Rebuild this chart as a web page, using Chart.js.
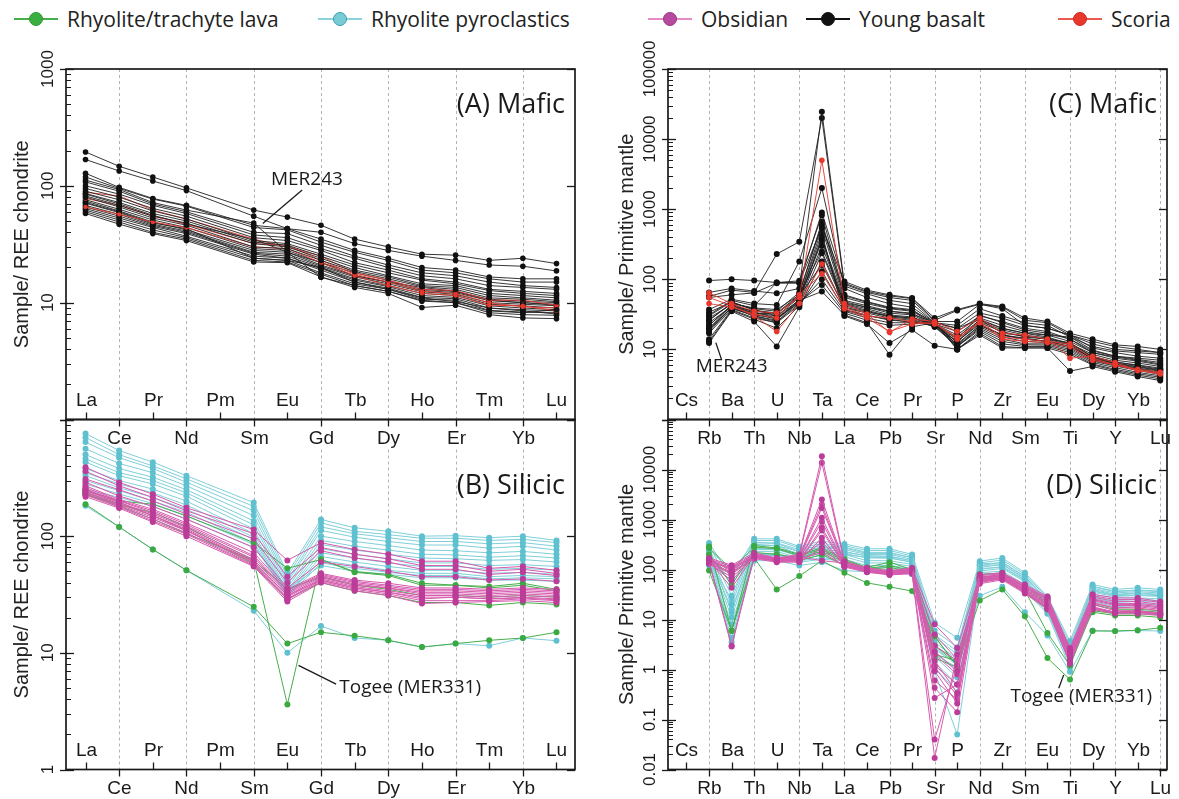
<!DOCTYPE html>
<html><head><meta charset="utf-8">
<script src="https://cdn.jsdelivr.net/npm/chart.js@4.4.1/dist/chart.umd.min.js"></script>
<style>
body{margin:0;background:#fff;width:1179px;height:799px;overflow:hidden;position:relative;}
.layer{position:absolute;left:0;top:0;width:1179px;height:799px;}
#legend{position:absolute;left:0;top:0;width:1179px;height:40px;}
.li{position:absolute;top:5px;height:28px;display:flex;align-items:center;font-family:"Open Sans",sans-serif;font-size:21px;color:#222;white-space:nowrap;}
.sw{position:relative;width:44px;height:28px;margin-right:9px;flex:none;}
.sw .ln{position:absolute;left:0;right:0;top:13px;height:2px;}
.sw .dt{position:absolute;left:15px;top:7px;width:14px;height:14px;border-radius:50%;box-sizing:border-box;}
</style></head>
<body>
<div id="legend"></div>
<canvas class="layer" id="cA" width="1179" height="799"></canvas>
<canvas class="layer" id="cB" width="1179" height="799"></canvas>
<canvas class="layer" id="cC" width="1179" height="799"></canvas>
<canvas class="layer" id="cD" width="1179" height="799"></canvas>
<script>
// ---------- categories & tick labels ----------
const reeLabels = ['La','Ce','Pr','Nd','Pm','Sm','Eu','Gd','Tb','Dy','Ho','Er','Tm','Yb','Lu'];
const pmLabels = ['Cs','Rb','Ba','Th','U','Nb','Ta','La','Ce','Pb','Pr','Sr','P','Nd','Zr','Sm','Eu','Ti','Dy','Y','Yb','Lu'];
const seriesNames = ['Rhyolite/trachyte lava','Rhyolite pyroclastics','Obsidian','Young basalt','Scoria'];
const yTicksA = [10,100,1000];
const yTicksB = [1,10,100];
const yTicksC = [10,100,1000,10000,100000];
const yTicksD = [0.01,0.1,1,10,100,1000,10000];

// ---------- (A) Mafic, REE/chondrite: La..Lu (Pm not analysed) ----------
const basaltREE = [
[195,147,119,96,null,62,54,46,35,30,26,25.5,23,24,21.6],
[168,134,110,91,null,55,43,40,32,28,25,23,21,20.5,18.7],
[128,97,78,68,null,46,43,35,28,24,20,19,16.6,16,16],
[119,95,77,67,null,44,42,33,27,23,19,18,16,15,15],
[112,93,72,62,null,48,27,16.5,14,12.5,10.5,10,8.5,8.2,8.7],
[108,90,70,60,null,40,39,31,25,21,18,17,15,14,13.5],
[100,85,68,58,null,38,36,29,24,20,17,16,14,13.5,13],
[95,80,64,55,null,36,34,28,22,19,16,15,13,12.5,12],
[90,76,61,52,null,34,32,26,21,18,15.6,14.5,12.7,12,11.5],
[86,72,58,50,null,33,31,25,20,17,14.5,14,12,11.5,11],
[82,68,55,48,null,32,30,24,19,16.6,14,13.5,11.5,11,10.5],
[80,66,53,46,null,30,29,23,18.5,16,13.7,13,11,10.7,10.2],
[76,63,51,44,null,29,28,22,18,15.5,13,12.5,10.7,10.3,10],
[74,61,49,42,null,28,27,21,17,15,12.7,12.2,10.4,10,9.7],
[71,59,47,41,null,27,26,20.5,16.6,14.5,12.4,11.8,10,9.7,9.4],
[68,57,46,40,null,26.5,25,20,16,14,12,11.5,9.7,9.4,9],
[66,55,45,39,null,26,24,19.6,15.6,13.7,11.5,11.1,9.4,9,8.7],
[64,53,44,37,null,25,24,19,15,13.3,11.1,10.8,9,8.7,8.5],
[62,51,42,36,null,24,23,18,14.5,13,10.7,10.5,8.6,8.3,8.2],
[60,49,40,35,null,23,22.3,17.5,14,12.5,10.3,10,8.2,7.9,7.8],
[58,47,39,34,null,22.3,22,16.6,13.5,12,9.1,9.5,7.9,7.4,7.3],
[72,60,48,43,null,24,23,20,15,13,11,10.2,9,8.5,8],
[85,70,56,47,null,35,27,22,17,15,13.5,12.5,10.5,10,9.5]
];
const scoriaREE = [
[88,82,62,52,null,35,30,25,18,15.6,13,12.7,10.5,10.5,9.5],
[66,57,49,44,null,30,29,22,17,14,12,11.5,9.5,9.4,8.5],
[78,68,55,47,null,32,31,23,17.5,15,12.5,12,10,9.2,9]
];

// ---------- (B) Silicic, REE/chondrite ----------
const lavaREE = [
[245,200,188,149,null,88,53,63,49.6,47,39.5,38,37,39.5,35],
[230,185,160,120,null,62,35,45,38,35,31,31,30,31,30],
[235,190,150,112,null,58,29,40,34,31,27,27,25.5,27,26],
[188,120,77,51,null,24.8,12,15,14,12.8,11.2,12,12.8,13.4,15],
[228,180,140,105,null,62,3.6,63,49,46,38,38,36,38,34]
];
const pyroREE = [
[757,542,431,330,null,194,48,139,118,110,100,101,97,100,92],
[700,500,400,310,null,180,45,130,110,103,96,96,92,94,88],
[640,470,380,290,null,165,42,120,105,97,90,90,86,88,82],
[561,420,350,270,null,150,40,112,98,90,84,84,79,82,76],
[500,380,320,250,null,135,38,100,90,83,76,75,72,74,70],
[460,350,300,235,null,125,36,92,82,76,70,69,66,68,65],
[431,330,280,220,null,115,34,85,76,70,65,64,62,63,60],
[380,300,253,200,null,105,33,78,70,64,59,59,56,57,55],
[350,280,235,185,null,98,32,72,65,59,55,55,52,53,51],
[330,260,215,170,null,94,31,67,60,55,51,51,48,49,47],
[300,245,200,160,null,88,31,62,56,51,48,48,45,46,45],
[280,230,190,150,null,85,30,59,53,49,46,46,43,44,43],
[253,215,180,140,null,80,35,56,50,47,44,44,42,42,41],
[182,120,77,51,null,23,10,17,13.4,12.8,11.2,12,11.5,13.4,12.7]
];
const obsREE = [
[390,289,229,175,null,114,62,88,77,70,61,61,53,55,51],
[360,270,215,165,null,105,45,80,70,64,56,56,50,52,48],
[309,250,200,155,null,95,40,75,65,60,52,52,47,49,46],
[290,221,180,140,null,80,36,60,55,50,45,45,42,43,41],
[270,207,170,130,null,72,35,48,42,39.5,36,36,35,36,35],
[262,202,165,126,null,68,34,47,41,38,35,35,34,35,34],
[253,200,160,122,null,66,33,46,40,37,34,34,33,34,33],
[245,194,155,118,null,63,32,45,39,36,33,33,32,33,32],
[240,190,150,115,null,61,31,44,38,35.8,32,32,31,32,31],
[237,185,145,111,null,59,30,43,37,34,31,31,30,31,30],
[230,182,140,107,null,57,29,42,36,33,29,30,29,30,29],
[225,178,135,104,null,56,28.5,41,35,32,28,28,28,29,28],
[218,174,132,100,null,55,27.5,40,34,31,26.5,27,27.5,28,27],
[250,196,150,112,null,60,31,42,36,33,30,30,29,29.5,28.5]
];

// ---------- (C) Mafic, primitive mantle: Rb..Lu (no Cs) ----------
const basaltPM = [
[96,100,96,90,90,550,93,70,60,54,28,37,45,41,28,25,17,14,11.6,11,10],
[65,74,68,63,74,24600,85,65,55,50,25,25,44,40,26,24,16,12,10,9.5,9],
[57,70,65,229,343,20000,80,62,50,45,24,22,38,30,24,22,15,11,9.5,9,8.5],
[37,52,45,43,180,2000,74,55,45,40,24,20,33,28,22,20,16,10.5,9,8,7.5],
[31,50,42,90,95,820,60,48,40,37,23,18,30,25,20,18,14,9.5,8,7.2,6.5],
[26,45,39,37,60,660,55,45,38,35,23,16,28,22,18,16,13,9,7.5,6.8,6],
[22,42,35,33,55,530,50,42,35,33,22,15,26,20,17,15,12,8.5,7,6.4,5.7],
[19,40,33,30,50,380,48,40,33,31,22,14,25,19,16,14.5,12,8,6.6,6,5.4],
[17,38,31,28,46,300,45,38,31,29,22,13,24,18,15,14,11.5,7.7,6.4,5.7,5.1],
[14,37,28,24,43,235,42,35,29,27,21,12,22,16,14.5,13,11,7.4,6.2,5.4,4.9],
[12.3,35,25,11,40,180,39,33,28,26,21,11,21,15,13,12.5,10.5,7,6,5.2,4.6],
[13,36,27,20,42,130,37,31,26,25,22,11,20,14,12,12,10,6.8,5.8,5,4.4],
[20,39,30,25,45,100,35,28,24,24,25,11,19,13,11.6,11.5,9.5,6.5,5.5,4.7,4.2],
[24,41,32,27,48,83,33,26,22,23,25,10,18,12,11,11,9,6.2,5.2,4.5,4],
[28,44,34,28,50,67,31,24,8.4,21,24,10,17,11,10.5,10.5,8.5,6,5,4.3,3.8],
[34,47,37,30,55,450,30,23,12.3,19,11.3,10,16,10.5,10.5,10.5,4.9,5.7,4.8,4.1,3.6],
[22,43,29,24,50,400,36,30,27,24,24,11.5,22,16,14,13,12,7.2,6,5.3,4.7],
[18,40,30,26,52,350,44,36,30,28,23,12.5,27,17,15.5,14,12.5,7.8,6.6,5.9,5.2],
[26,46,38,35,65,600,58,47,39,36,24,14,31,24,19,17,14,9,7.8,7,6.2],
[55,60,64,88,88,900,88,67,58,53,26,36,44,38,22,20,16,13,11,10,9],
[30,48,36,33,60,250,46,40,35,32,24,20,27,20,17,16,15,9.8,8,7.5,7],
[20,42,33,32,58,160,40,34,30,28,22,13,23,16,14,13,11,7.5,6.3,5.6,5]
];
const scoriaPM = [
[64,45,35,33,55,5000,45,32,17.5,27,25,18,28,17,16,14,7.5,8,6.5,5,4.5],
[55,42,30,18,45,165,40,30,28,25,23,15,25,15,14,13,12,7.5,6,5.2,4.7],
[45,40,32,28,60,120,38,28,18,23,24,14,24,14,13,12.5,11,7,6,5,4.5]
];

// ---------- (D) Silicic, primitive mantle ----------
const lavaPM = [
[95,5.9,170,40,74,150,86,54,45,37,4.6,1.15,24,40,11.6,1.7,0.63,5.9,5.9,6.1,6.8],
[290,6,300,270,200,270,160,110,140,100,4.6,1.2,80,85,45,22,2.5,20,16,16,15],
[270,100,280,260,190,250,150,105,120,95,2,1.5,70,75,40,20,2.2,17,14,15,14],
[160,80,180,150,150,200,120,90,100,85,1.7,1.1,60,65,35,16,1.8,14,12,12,11],
[200,50,220,200,170,230,140,100,110,90,3,1.3,65,70,38,5.4,1.2,15,13,13,12.5]
];
const pyroPM = [
[340,68,410,410,290,370,325,260,260,200,8.6,4.3,147,170,86,29,3.7,50,40,43,40],
[300,45,380,380,270,330,300,240,240,185,6,2.8,135,155,80,27,3.2,46,37,39,37],
[260,30,340,340,250,300,280,220,220,170,4.5,2,120,140,74,25,2.8,42,34,36,34],
[230,20,300,300,230,270,250,200,200,160,3.5,1.6,110,126,68,23,2.4,38,31,33,31],
[200,14,270,270,210,250,230,185,185,150,2.8,1.2,100,115,62,21,2.1,35,29,30,29],
[180,11,250,250,190,230,210,170,170,140,2.2,0.9,93,105,57,19,1.9,32,27,27,26],
[170,8,230,230,170,210,200,150,150,126,1.8,0.7,86,93,50,17,1.7,29,24,25,24],
[155,6,210,210,160,190,180,135,135,115,1.4,0.5,78,86,45,15,1.5,27,22,23,22],
[145,4.3,200,200,150,170,160,120,120,105,1.1,0.35,70,78,40,14,1.3,25,20,21,20],
[140,3.5,190,190,140,160,150,110,110,100,0.9,0.05,68,72,37,13,1.1,23,18,19,18],
[150,25,320,300,200,260,220,190,180,150,3,1.5,120,125,65,20,2,40,32,34,32],
[200,16,260,260,180,230,200,175,170,140,2.5,1.3,105,110,60,18,2,37,30,31,30],
[260,90,350,330,230,280,270,210,210,175,5,2.3,130,135,72,24,2.5,45,36,38,36],
[120,6,150,150,120,140,95,90,90,80,2,1.1,30,45,14,4.8,0.9,6,5.8,6,5.9]
];
const obsPM = [
[170,122,215,170,200,18500,147,108,95,108,8,2.7,79,86,50,29,2.7,32,27,27,23],
[160,93,200,165,190,13600,140,105,92,104,2.3,0.93,75,82,48,27,2.4,30,25,25,22],
[150,43,190,160,180,2500,135,100,90,100,1.5,0.34,70,78,45,25,2.2,28,23,23,20],
[145,3,185,155,170,1700,130,98,88,96,0.93,0.21,66,75,42,22,2,26,21,21,19],
[140,2.9,180,150,160,1080,125,95,85,92,0.43,0.14,62,72,40,20,1.8,24,19,19,17],
[136,80,175,147,150,680,120,92,82,88,0.27,0.5,58,68,37,18,1.7,22,17,17,15],
[132,70,170,145,147,430,116,90,80,85,0.04,1.2,55,65,35,17,1.5,20,15,15,13.5],
[130,90,165,140,140,270,112,88,78,82,0.017,2,52,62,33,16,1.4,18,14,14,12.6],
[150,100,180,155,160,900,120,95,84,90,1.2,0.5,60,70,38,19,1.6,17,14,14,13],
[140,110,175,150,150,600,118,92,80,86,0.6,0.25,56,66,35,17,1.3,16,13,13,12],
[145,85,190,160,170,350,125,96,85,90,2,0.8,65,74,40,21,2,25,20,20,18],
[135,60,185,150,160,220,118,92,82,88,3,1.5,60,70,36,18,1.8,17,14,14.5,13],
[155,105,195,165,175,2000,130,100,88,95,1.1,0.3,68,76,44,24,2.3,16,13.5,14,12.6],
[160,115,200,170,180,150,135,100,90,98,5,1.6,70,80,46,26,2.5,21,17,18,16]
];

// ---------- styles ----------
const STY = {
  lava:   {line:'#47ae4c', pt:'#3aa93f', legLine:'#47ae4c', legDot:'#3cae41', legBorder:'#2e9a34'},
  pyro:   {line:'#7fcfd9', pt:'#5fc0cf', legLine:'#8ad3dc', legDot:'#79cbd6', legBorder:'#3f9fb0'},
  obs:    {line:'#d65aae', pt:'#bc3c99', legLine:'#e58bc8', legDot:'#b54a9f', legBorder:'#9a3586'},
  basalt: {line:'#202020', pt:'#111111', legLine:'#111', legDot:'#111', legBorder:'#111'},
  scoria: {line:'#e3392f', pt:'#e8372c', legLine:'#ee5a50', legDot:'#e8372c', legBorder:'#d02a20'}
};
const legendOrder = ['lava','pyro','obs','basalt','scoria'];
const legendLeft = [14,318,648,806,1058];

// legend (HTML)
const lg = document.getElementById('legend');
seriesNames.forEach((name, i) => {
  const s = STY[legendOrder[i]];
  const d = document.createElement('div');
  d.className = 'li'; d.style.left = legendLeft[i] + 'px';
  d.innerHTML = '<span class="sw"><span class="ln" style="background:' + s.legLine + '"></span><span class="dt" style="background:' + s.legDot + ';border:1.5px solid ' + s.legBorder + '"></span></span><span>' + name + '</span>';
  lg.appendChild(d);
});

function ds(rows, sty, offset, r, w) {
  return rows.map(row => ({
    data: row.map((v, i) => ({x: i + offset, y: v})),
    borderColor: sty.line, backgroundColor: sty.pt,
    pointBackgroundColor: sty.pt, pointBorderColor: sty.pt, pointBorderWidth: 0,
    pointRadius: r, borderWidth: w, spanGaps: true, tension: 0
  }));
}

const TICKFONT = '19px "Liberation Sans", Arial, sans-serif';
const panelPlugin = {
  id: 'panel',
  beforeDatasetsDraw(chart, args, o) {
    const {ctx, chartArea: a, scales: {x}} = chart;
    ctx.save();
    ctx.strokeStyle = '#a0a0a0'; ctx.lineWidth = 0.8; ctx.setLineDash([3, 3]);
    o.labels.forEach((lab, i) => {
      if (i % 2 === 1) {
        const px = Math.round(x.getPixelForValue(i)) + 0.5;
        ctx.beginPath(); ctx.moveTo(px, a.top + o.gridGap); ctx.lineTo(px, a.bottom); ctx.stroke();
      }
    });
    ctx.restore();
  },
  afterDraw(chart, args, o) {
    const {ctx, chartArea: a, scales: {x, y}} = chart;
    ctx.save();
    ctx.setLineDash([]);
    ctx.strokeStyle = '#1a1a1a'; ctx.fillStyle = '#1a1a1a';
    ctx.lineWidth = 1.7;
    ctx.strokeRect(a.left, a.top, a.right - a.left, a.bottom - a.top);
    // x axis ticks + alternating labels
    ctx.lineWidth = 1.3;
    ctx.font = TICKFONT; ctx.textAlign = 'center'; ctx.textBaseline = 'middle';
    o.labels.forEach((lab, i) => {
      const px = Math.round(x.getPixelForValue(i)) + 0.5;
      ctx.beginPath();
      if (i % 2 === 0) {
        ctx.moveTo(px, a.bottom); ctx.lineTo(px, a.bottom - 7); ctx.stroke();
        ctx.fillText(lab, px, a.bottom - 19);
      } else {
        ctx.moveTo(px, a.bottom); ctx.lineTo(px, a.bottom + 7); ctx.stroke();
        ctx.fillText(lab, px, a.bottom + 19);
      }
    });
    // y axis log ticks
    const lo = Math.log10(y.min), hi = Math.log10(y.max);
    for (let d = Math.round(lo); d <= Math.round(hi); d++) {
      const v = Math.pow(10, d);
      const py = Math.round(y.getPixelForValue(v)) + 0.5;
      ctx.lineWidth = 1.3;
      ctx.beginPath(); ctx.moveTo(a.left - 6, py); ctx.lineTo(a.left + 8, py); ctx.stroke();
      ctx.beginPath(); ctx.moveTo(a.right - 8, py); ctx.lineTo(a.right, py); ctx.stroke();
      if (d < Math.round(hi)) {
        ctx.lineWidth = 1;
        for (let k = 2; k <= 9; k++) {
          const pm = Math.round(y.getPixelForValue(k * v)) + 0.5;
          ctx.beginPath(); ctx.moveTo(a.left, pm); ctx.lineTo(a.left + 5, pm); ctx.stroke();
        }
      }
    }
    ctx.font = '17px "Liberation Sans", Arial, sans-serif';
    o.yLabels.forEach(v => {
      const py = y.getPixelForValue(v);
      ctx.save(); ctx.translate(a.left - 18, py); ctx.rotate(-Math.PI / 2);
      ctx.textAlign = 'center'; ctx.textBaseline = 'middle';
      ctx.fillText(String(v), 0, 0); ctx.restore();
    });
    // panel title
    ctx.font = '27px "Open Sans", sans-serif'; ctx.textAlign = 'right'; ctx.textBaseline = 'middle';
    ctx.fillStyle = '#1a1a1a';
    ctx.fillText(o.name, a.right - 10, a.top + o.nameDy);
    // annotations
    ctx.font = '19px "Open Sans", sans-serif'; ctx.textAlign = 'center';
    ctx.lineWidth = 1.3;
    (o.notes || []).forEach(n => {
      ctx.beginPath();
      ctx.moveTo(x.getPixelForValue(n.from[0]), y.getPixelForValue(n.from[1]));
      ctx.lineTo(x.getPixelForValue(n.to[0]), y.getPixelForValue(n.to[1]));
      ctx.stroke();
      ctx.fillText(n.text, x.getPixelForValue(n.at[0]), y.getPixelForValue(n.at[1]));
    });
    ctx.restore();
  }
};

function panel(id, c) {
  return new Chart(document.getElementById(id), {
    type: 'line',
    data: {datasets: c.datasets},
    options: {
      responsive: false, animation: false, devicePixelRatio: 1, events: [],
      layout: {padding: {left: c.padLeft, top: c.top, right: 1179 - c.right, bottom: 799 - c.bottom}},
      plugins: {legend: {display: false}, tooltip: {enabled: false},
        panel: {labels: c.labels, yLabels: c.yLabels, name: c.name, nameDy: c.nameDy, gridGap: c.gridGap, notes: c.notes}},
      scales: {
        x: {type: 'linear', display: false, min: c.xmin, max: c.xmax},
        y: {type: 'logarithmic', position: 'left', min: c.ymin, max: c.ymax,
          ticks: {display: false}, grid: {display: false}, border: {display: false},
          title: {display: true, text: c.title, color: '#222',
            font: {family: '"Liberation Sans", Arial, sans-serif', size: 20}, padding: {top: c.titlePad, bottom: 0}},
          afterFit(s) { s.width = c.left - c.padLeft; }
        }
      }
    },
    plugins: [panelPlugin]
  });
}

const TOP = 69, MID = 419.5, BOT = 769.5;
const LA = 66, RA = 575, LC = 668, RC = 1167;

panel('cA', {
  datasets: [...ds(basaltREE.slice(0, 12), STY.basalt, 0, 2.8, 0.9), ...ds(scoriaREE, STY.scoria, 0, 2.2, 0.9), ...ds(basaltREE.slice(12), STY.basalt, 0, 2.8, 0.9)],
  labels: reeLabels, yLabels: yTicksA, name: '(A) Mafic', nameDy: 36, gridGap: 0,
  title: 'Sample/ REE chondrite', titlePad: 10, padLeft: 0, left: LA, right: RA, top: TOP, bottom: MID,
  xmin: -0.58, xmax: 14.55, ymin: 1, ymax: 1000,
  notes: [{text: 'MER243', at: [6.58, 113], from: [6.44, 92], to: [5.27, 47.5]}]
});
panel('cB', {
  datasets: [...ds(obsREE, STY.obs, 0, 3, 1), ...ds(lavaREE, STY.lava, 0, 3, 1), ...ds(pyroREE, STY.pyro, 0, 3, 1)],
  labels: reeLabels, yLabels: yTicksB, name: '(B) Silicic', nameDy: 67, gridGap: 30,
  title: 'Sample/ REE chondrite', titlePad: 10, padLeft: 0, left: LA, right: RA, top: MID, bottom: BOT,
  xmin: -0.58, xmax: 14.55, ymin: 1, ymax: 1000,
  notes: [{text: 'Togee (MER331)', at: [9.65, 5.0], from: [6.33, 7.8], to: [7.45, 5.4]}]
});
panel('cC', {
  datasets: [...ds(scoriaPM, STY.scoria, 1, 2.8, 0.9), ...ds(basaltPM, STY.basalt, 1, 3, 0.9)],
  labels: pmLabels, yLabels: yTicksC, name: '(C) Mafic', nameDy: 36, gridGap: 0,
  title: 'Sample/ Primitive mantle', titlePad: 25, padLeft: 590, left: LC, right: RC, top: TOP, bottom: MID,
  xmin: -0.82, xmax: 21.3, ymin: 1, ymax: 100000,
  notes: [{text: 'MER243', at: [2.0, 5.6], from: [1.3, 12.5], to: [1.55, 7.2]}]
});
panel('cD', {
  datasets: [...ds(obsPM, STY.obs, 1, 3, 1), ...ds(lavaPM, STY.lava, 1, 3, 1), ...ds(pyroPM, STY.pyro, 1, 3, 1)],
  labels: pmLabels, yLabels: yTicksD, name: '(D) Silicic', nameDy: 67, gridGap: 30,
  title: 'Sample/ Primitive mantle', titlePad: 25, padLeft: 590, left: LC, right: RC, top: MID, bottom: BOT,
  xmin: -0.82, xmax: 21.3, ymin: 0.01, ymax: 100000,
  notes: [{text: 'Togee (MER331)', at: [17.5, 0.29], from: [16.72, 0.78], to: [16.5, 0.42]}]
});
</script>
</body></html>
